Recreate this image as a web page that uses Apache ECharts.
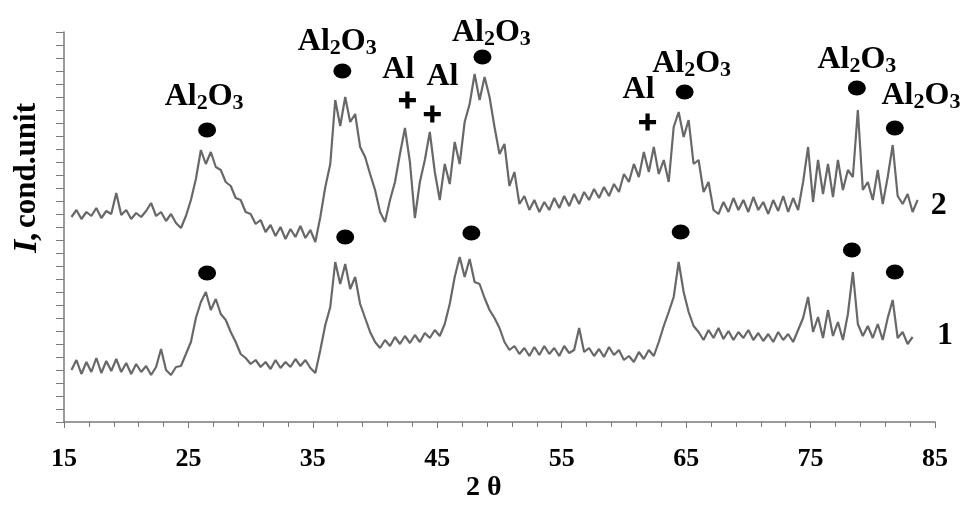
<!DOCTYPE html>
<html>
<head>
    <meta charset="utf-8" />
    <script src="https://cdn.jsdelivr.net/npm/echarts@6/dist/echarts.min.js"></script>
    <style type="text/css">
    body {
        margin: 0;
        background-color: #ffffff;
    }
    #chart {
        width: 963px;
        height: 505px;
    }
    </style>
</head>
<body>
    <div id="chart"></div>
    <script type="text/javascript">
    // 2θ sampling of the scans (degrees)
    let startAngle = 15.6;
    let stepAngle = 0.4;

    // curve 2 (upper scan), intensity in cond. units
    let curve2 = [
        205, 212, 203, 210, 206, 214, 204, 211, 208, 229,
        207, 212, 203, 209, 205, 211, 219, 206, 210, 201,
        208, 199, 194, 206, 222, 243, 272, 258, 270, 255,
        252, 240, 236, 224, 222, 210, 208, 198, 202, 190,
        197, 186, 195, 183, 193, 185, 196, 184, 192, 180,
        205, 235, 258, 322, 296, 325, 300, 308, 275, 265,
        248, 232, 210, 200, 222, 240, 268, 294, 260, 204,
        240, 262, 290, 250, 222, 258, 238, 280, 258, 300,
        318, 348, 322, 345, 325, 295, 268, 278, 236, 250,
        218, 226, 212, 222, 210, 220, 212, 224, 214, 226,
        216, 228, 218, 230, 222, 233, 224, 235, 226, 238,
        230, 248, 240, 258, 245, 270, 250, 275, 248, 262,
        240, 295, 310, 285, 302, 258, 262, 230, 240, 212,
        208, 220, 210, 224, 212, 222, 210, 225, 212, 220,
        208, 222, 211, 226, 210, 224, 212, 240, 275, 220,
        262, 228, 258, 225, 262, 232, 252, 245, 312, 232,
        240, 222, 252, 218, 245, 277, 226, 218, 228, 210,
        222
    ];

    // curve 1 (lower scan)
    let curve1 = [
        52, 62, 48, 60, 50, 64, 49, 61, 51, 63,
        50, 59, 48, 58, 50, 56, 47, 55, 73, 52,
        47, 55, 56, 68, 80, 104, 120, 130, 112, 123,
        108, 102, 90, 80, 68, 64, 58, 62, 55, 60,
        53, 62, 54, 60, 55, 63, 56, 62, 54, 49,
        72, 97, 115, 160, 138, 158, 133, 145, 118, 104,
        90, 80, 74, 82, 76, 85, 78, 86, 79, 87,
        80, 89, 84, 92, 86, 98, 118, 145, 165, 145,
        163, 140, 138, 124, 112, 104, 94, 80, 72, 76,
        68, 74, 66, 75, 67, 76, 68, 74, 66, 76,
        69, 72, 94, 70, 74, 66, 73, 65, 75, 67,
        72, 62, 66, 60, 70, 63, 72, 66, 80, 96,
        110, 125, 160, 130, 110, 96, 90, 82, 92, 84,
        94, 83, 91, 82, 90, 84, 92, 82, 89, 81,
        88, 80, 90, 82, 88, 80, 92, 104, 125, 90,
        105, 84, 112, 86, 100, 82, 108, 150, 98, 86,
        96, 84, 98, 82, 104, 122, 84, 90, 78, 85
    ];

    // phase markers: [2θ, height]
    let dots2 = [[26.5, 292], [37.37, 351], [48.63, 365], [64.88, 330], [78.72, 334], [81.77, 294]];
    let crosses2 = [[42.6, 322], [44.6, 308], [61.9, 300]];
    let dots1 = [[26.5, 149], [37.6, 185], [47.74, 189], [64.56, 190], [78.32, 172], [81.77, 150]];

    // phase names above the upper scan
    let phaseLabels = [
        [26.26, 325, 'Al2O3'], [36.96, 380, 'Al2O3'], [41.87, 352, 'Al'], [45.41, 345, 'Al'],
        [49.35, 389, 'Al2O3'], [61.18, 332, 'Al'], [65.44, 358, 'Al2O3'], [78.72, 362, 'Al2O3'],
        [83.87, 326, 'Al2O3']
    ];
    let curveLabels = [[85.3, 216, '2'], [85.8, 86, '1']];

    let xTicks = [15, 25, 35, 45, 55, 65, 75, 85];

    function toPairs(arr) {
        return arr.map(function (v, i) {
            return [+(startAngle + i * stepAngle).toFixed(2), v];
        });
    }

    let serif = 'Liberation Serif';
    let plusPath = 'path://M3,0 H5 V3 H8 V5 H5 V8 H3 V5 H0 V3 H3 Z';

    let option = {
        animation: false,
        backgroundColor: '#ffffff',
        grid: {
            left: 64,
            right: 28,
            top: 32,
            bottom: 83
        },
        xAxis: {
            type: 'value',
            min: 15,
            max: 85,
            interval: 10,
            axisLine: {
                lineStyle: { color: '#7a7a7a', width: 1.5 }
            },
            axisTick: {
                length: 6,
                lineStyle: { color: '#7a7a7a' }
            },
            minorTick: {
                show: true,
                splitNumber: 5,
                length: 5,
                lineStyle: { color: '#7a7a7a' }
            },
            splitLine: { show: false },
            axisLabel: {
                margin: 24,
                fontFamily: serif,
                fontWeight: 'bold',
                fontSize: 26,
                color: '#000',
                customValues: xTicks
            }
        },
        yAxis: {
            type: 'value',
            min: 0,
            max: 390,
            interval: 13,
            axisLine: {
                show: true,
                lineStyle: { color: '#7a7a7a', width: 1.5 }
            },
            axisTick: {
                show: true,
                length: 8,
                lineStyle: { color: '#7a7a7a' }
            },
            axisLabel: { show: false },
            splitLine: { show: false }
        },
        graphic: [
            {
                type: 'text',
                left: 10,
                top: 103,
                rotation: Math.PI / 2,
                style: {
                    text: '{i|I,} {b|cond.unit}',
                    rich: {
                        i: { fontFamily: serif, fontStyle: 'italic', fontWeight: 'bold', fontSize: 34, fill: '#000' },
                        b: { fontFamily: serif, fontWeight: 'bold', fontSize: 31, fill: '#000' }
                    }
                }
            },
            {
                type: 'text',
                left: 466,
                top: 474,
                style: {
                    text: '2 θ',
                    fontFamily: serif,
                    fontWeight: 'bold',
                    fontSize: 28,
                    fill: '#000'
                }
            }
        ],
        series: [
            {
                name: '2',
                type: 'line',
                data: toPairs(curve2),
                symbol: 'none',
                lineStyle: { color: '#686868', width: 2.2 }
            },
            {
                name: '1',
                type: 'line',
                data: toPairs(curve1),
                symbol: 'none',
                lineStyle: { color: '#686868', width: 2.2 }
            },
            {
                type: 'scatter',
                data: dots2.concat(dots1),
                symbol: 'circle',
                symbolSize: [18, 15],
                itemStyle: { color: '#000', opacity: 1 },
                z: 5
            },
            {
                type: 'scatter',
                data: crosses2,
                symbol: plusPath,
                symbolSize: 17,
                itemStyle: { color: '#000', opacity: 1 },
                z: 5
            },
            {
                type: 'scatter',
                clip: false,
                data: phaseLabels,
                symbolSize: 0,
                itemStyle: { opacity: 1 },
                label: {
                    show: true,
                    position: 'inside',
                    formatter: function (p) {
                        return p.data[2] === 'Al2O3' ? '{b|Al}{s|2}{b|O}{s|3}' : '{b|Al}';
                    },
                    rich: {
                        b: { fontFamily: serif, fontWeight: 'bold', fontSize: 32, color: '#000', lineHeight: 34 },
                        s: { fontFamily: serif, fontWeight: 'bold', fontSize: 22, color: '#000', lineHeight: 22, padding: [12, 0, 0, 0] }
                    }
                },
                z: 6
            },
            {
                type: 'scatter',
                clip: false,
                data: curveLabels,
                symbolSize: 0,
                itemStyle: { opacity: 1 },
                label: {
                    show: true,
                    position: 'inside',
                    formatter: function (p) {
                        return p.data[2];
                    },
                    fontFamily: serif,
                    fontWeight: 'bold',
                    fontSize: 32,
                    color: '#000'
                },
                z: 6
            }
        ]
    };

    let chart = echarts.init(document.getElementById('chart'));
    chart.setOption(option);
    </script>
</body>
</html>
